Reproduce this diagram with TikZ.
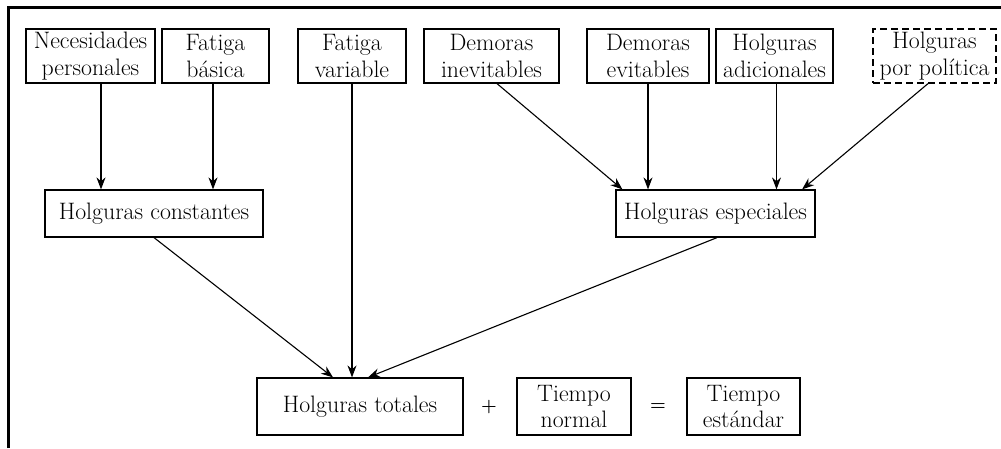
\documentclass[tikz,border=0pt]{standalone}
\usepackage{fontspec}
\usetikzlibrary{arrows.meta}
\begin{document}
\begin{tikzpicture}[x=1pt,y=-1pt,
  box/.style={draw,line width=1.2pt,rectangle,inner sep=0pt,align=center,
    font=\fontsize{23.8}{26.5}\selectfont,minimum height=54pt},
  arr/.style={line width=1.1pt,-{Stealth[length=12pt,width=9pt]}},
  sym/.style={inner sep=0pt,font=\fontsize{18}{20}\selectfont\bfseries}]
\useasboundingbox (0,0) rectangle (1001,448);
\draw[line width=3pt] (8,448) -- (8,7) -- (1001,7);
% top row
\node[box,minimum width=129pt] (nec) at (90.5,56) {Necesidades\\personales};
\node[box,minimum width=107pt] (fb) at (215.5,56) {Fatiga\\básica};
\node[box,minimum width=108pt] (fv) at (352,56) {Fatiga\\variable};
\node[box,minimum width=135pt] (di) at (491.5,56) {Demoras\\inevitables};
\node[box,minimum width=122pt] (de) at (648,56) {Demoras\\evitables};
\node[box,minimum width=117pt] (ha) at (774.5,56) {Holguras\\adicionales};
\node[box,dash pattern=on 7pt off 4pt,minimum width=123pt] (hp) at (934.5,56) {Holguras\\por política};
% middle row
\node[box,minimum width=218pt,minimum height=47pt] (hc) at (154,213.5) {Holguras constantes};
\node[box,minimum width=199pt,minimum height=47pt] (he) at (715.5,213.5) {Holguras especiales};
% bottom row
\node[box,minimum width=206pt,minimum height=57pt] (ht) at (360,406.5) {Holguras totales};
\node[sym] (plus) at (489,407) {+};
\node[box,minimum width=114pt,minimum height=57pt] (tn) at (574,406.5) {Tiempo\\normal};
\node[sym] (eq) at (658,407) {=};
\node[box,minimum width=113pt,minimum height=57pt] (te) at (743.5,406.5) {Tiempo\\estándar};
% arrows
\draw[arr] ([xshift=10.5pt]nec.south) -- ([xshift=10.5pt]nec.south |- hc.north);
\draw[arr] ([xshift=-2.5pt]fb.south) -- ([xshift=-2.5pt]fb.south |- hc.north);
\draw[arr] (fv.south) -- (fv.south |- ht.north);
\draw[arr] ([xshift=5.5pt]di.south) -- ([xshift=7pt]he.north west);
\draw[arr] (de.south) -- (de.south |- he.north);
\draw[arr] ([xshift=2pt]ha.south) -- ([xshift=2pt]ha.south |- he.north);
\draw[arr] ([xshift=-6.5pt]hp.south) -- ([xshift=-13.5pt]he.north east);
\draw[arr] (hc.south) -- ([xshift=-27pt]ht.north);
\draw[arr] ([xshift=1.5pt]he.south) -- ([xshift=8pt]ht.north);
\end{tikzpicture}
\end{document}
